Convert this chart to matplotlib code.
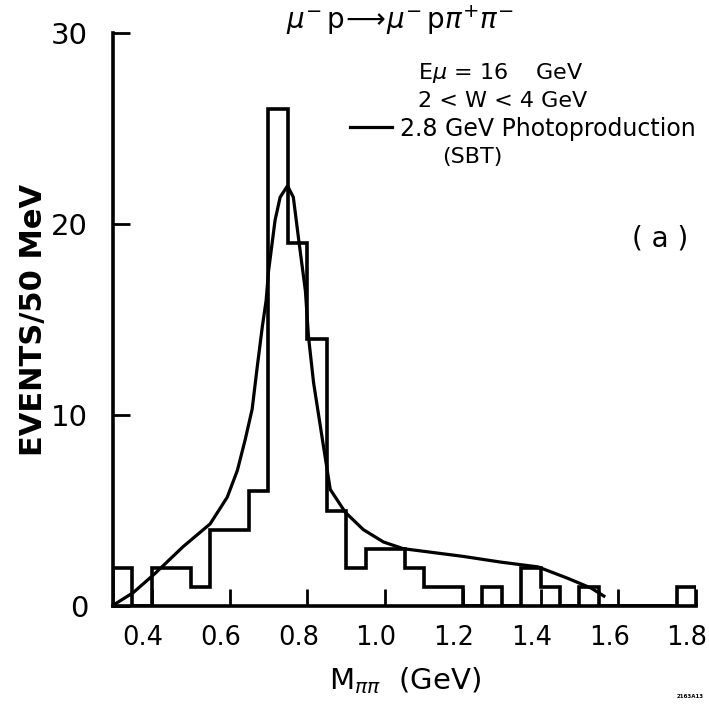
import numpy as np
import matplotlib
matplotlib.use('Agg')
import matplotlib.pyplot as plt
from matplotlib.transforms import ScaledTranslation

# Histogram of M(pi pi), 50 MeV bins starting at 0.30 GeV
bin_edges = np.round(np.arange(0.30, 1.80 + 0.001, 0.05), 2)
events = [2, 0, 2, 2, 1, 4, 4, 6, 26, 19,
          14, 5, 2, 3, 3, 2, 1, 1, 0, 1,
          0, 2, 1, 0, 1, 0, 0, 0, 0, 1]

# 2.8 GeV photoproduction curve (SBT)
curve_m = [0.305, 0.352, 0.408, 0.48, 0.55, 0.594, 0.62, 0.64, 0.658,
           0.671, 0.684, 0.694, 0.70, 0.717, 0.73, 0.749, 0.764, 0.777,
           0.795, 0.803, 0.816, 0.842, 0.859, 0.898, 0.944, 0.996, 1.047,
           1.20, 1.297, 1.354, 1.393, 1.47, 1.53, 1.563]
curve_n = [0.1, 0.7, 1.7, 3.1, 4.3, 5.7, 7.1, 8.7, 10.3,
           12.5, 14.6, 16.0, 17.5, 20.2, 21.4, 22.0, 21.4, 19.3,
           16.5, 14.1, 11.7, 8.3, 6.1, 4.9, 4.0, 3.35, 3.0,
           2.6, 2.3, 2.15, 2.05, 1.45, 0.94, 0.52]

x_ticks = [0.4, 0.6, 0.8, 1.0, 1.2, 1.4, 1.6, 1.8]
y_ticks = [0, 10, 20, 30]

W, H = 709, 707
fig = plt.figure(figsize=(W / 100, H / 100), dpi=100)
ax = fig.add_axes([113 / W, 1 - 606 / H, 583 / W, 573 / H])

ax.stairs(events, bin_edges, color='black', linewidth=2.6)
ax.plot(curve_m, curve_n, color='black', linewidth=2.3)

ax.set_xlim(0.30, 1.80)
ax.set_ylim(0, 30)
ax.set_xticks(x_ticks)
ax.set_xticklabels([f'{t:.1f}' for t in x_ticks])
ax.set_yticks(y_ticks)

for side in ['top', 'right']:
    ax.spines[side].set_visible(False)
for side in ['left', 'bottom']:
    ax.spines[side].set_linewidth(2.6)

ax.tick_params(direction='in', length=12, width=2, labelsize=18.5, pad=14)
ax.tick_params(axis='y', labelsize=21, pad=18)

# labels in the original sit a little left of their ticks
shift = ScaledTranslation(-9 / 100, 0, fig.dpi_scale_trans)
for lab in ax.get_xticklabels():
    lab.set_transform(lab.get_transform() + shift)

ax.set_xlabel(r'M$_{\pi\pi}$  (GeV)', fontsize=21, labelpad=10)
ax.set_ylabel('EVENTS/50 MeV', fontsize=22, fontweight='bold', labelpad=2)


def px(x, y):
    # pixel position -> figure fraction
    return x / W, 1 - y / H


fig.text(*px(400, 20), r'$\mu^{-}\,\mathrm{p}\!\longrightarrow\!\mu^{-}\,\mathrm{p}\pi^{+}\pi^{-}$',
         fontsize=20, ha='center', va='center')
fig.text(*px(418, 73), r'E$\mu$ = 16    GeV', fontsize=16, ha='left', va='center')
fig.text(*px(418, 101), '2 < W < 4 GeV', fontsize=16, ha='left', va='center')
fig.text(*px(400, 129), '2.8 GeV Photoproduction', fontsize=17, ha='left', va='center')
fig.text(*px(472, 157), '(SBT)', fontsize=16, ha='center', va='center')
fig.text(*px(660, 238), '( a )', fontsize=20, ha='center', va='center')
fig.text(*px(690, 697), '2163A13', fontsize=4, ha='center', va='center',
         fontweight='bold')

# legend stroke for the curve
ax.plot([(350 - 113) / 583, (392 - 113) / 583],
        [(606 - 127) / 573, (606 - 127) / 573],
        transform=ax.transAxes, color='black', linewidth=2.3, clip_on=False)

fig.savefig('out.png', dpi=100)
